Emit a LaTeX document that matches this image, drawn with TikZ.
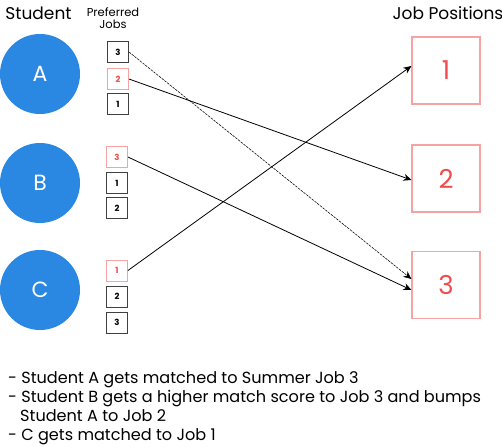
\documentclass[tikz,border=0pt]{standalone}
\usepackage{fontspec}
\setmainfont{Poppins}
\usetikzlibrary{arrows.meta}
\definecolor{blueA}{HTML}{2B88E2}
\definecolor{redA}{HTML}{F24B4B}
\definecolor{pinkA}{HTML}{F7A3A3}
\begin{document}
\begin{tikzpicture}[x=1pt,y=-1pt,
  stud/.style={circle, fill=blueA, minimum size=80pt, inner sep=0pt, text=white, font=\fontsize{22}{22}\selectfont},
  pref/.style={draw=black!75, line width=0.9pt, minimum size=21pt, inner sep=0pt, font=\fontsize{8.5}{8.5}\selectfont\bfseries},
  prefsel/.style={pref, draw=pinkA, text=redA},
  job/.style={draw=pinkA, line width=1.2pt, minimum width=68pt, minimum height=67pt, inner sep=0pt, text=redA, font=\fontsize{26}{26}\selectfont},
  arr/.style={-{Stealth[length=8pt,width=7pt]}, line width=0.8pt},
  head/.style={font=\fontsize{17}{17}\selectfont, inner sep=0pt},
  note/.style={font=\fontsize{16.1}{16.1}\selectfont, inner sep=0pt, anchor=base west},
]
\useasboundingbox (0,0) rectangle (502,446);

\node[head] (hs) at (38.5,13) {Student};
\node[font=\fontsize{11.5}{12.5}\selectfont, align=center, inner sep=0pt] (hp) at (113,18) {Preferred\\Jobs};
\node[head] (hj) at (448,13) {Job Positions};

\node[stud] (A) at (40,74) {A};
\node[stud] (B) at (40,183) {B};
\node[stud] (C) at (40,290) {C};

\node[pref] (a3) at (118,52) {3};
\node[prefsel] (a2) at (118,79) {2};
\node[pref] (a1) at (118,104) {1};

\node[prefsel] (b3) at (117,157) {3};
\node[pref] (b1) at (117,183) {1};
\node[pref] (b2) at (117,208) {2};

\node[prefsel] (c1) at (117,270.5) {1};
\node[pref] (c2) at (117,296.5) {2};
\node[pref] (c3) at (117,322.5) {3};

\node[job] (j1) at (446,70.5) {1};
\node[job] (j2) at (446,178.5) {2};
\node[job] (j3) at (446,285) {3};

\draw[arr] (a2.east) -- ([yshift=-1.5pt]j2.west);
\draw[arr, line width=0.55pt, dash pattern=on 2.5pt off 1pt] (a3.east) -- ([yshift=6pt]j3.west);
\draw[arr] (b3.east) -- ([yshift=-5pt]j3.west);
\draw[arr] (c1.east) -- ([yshift=4.5pt]j1.west);

\node[note] (n1) at (8,383) {- Student A gets matched to Summer Job 3};
\node[note] (n2) at (8,402.5) {- Student B gets a higher match score to Job 3 and bumps};
\node[note] (n3) at (20,421) {Student A to Job 2};
\node[note] (n4) at (8,440) {- C gets matched to Job 1};
\end{tikzpicture}
\end{document}
